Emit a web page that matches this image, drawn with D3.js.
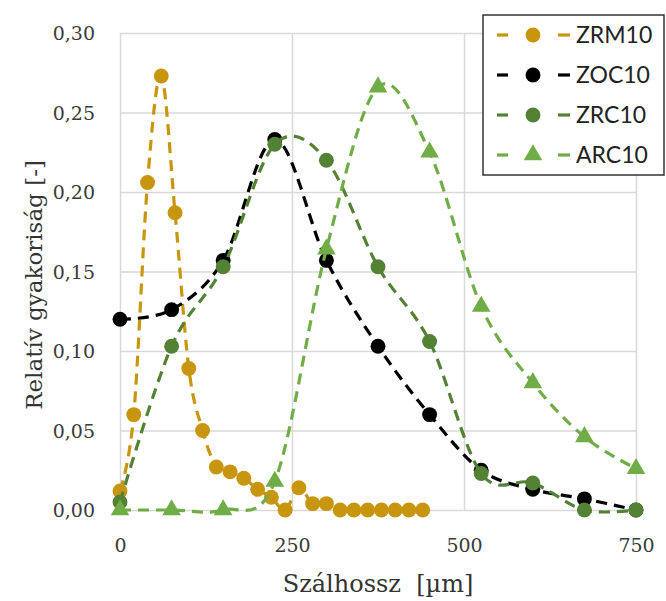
<!DOCTYPE html>
<html>
  <head>
    <style>
    body {
        margin: 0px;
        overflow: hidden;
        background: white;
    }
    .tick text {
        font-family: "DejaVu Serif", serif;
        font-size: 19px;
        fill: #3a3a3a;
    }
    .axis-label {
        font-family: "DejaVu Serif", serif;
        fill: #333;
    }
    .legend text {
        font-family: Lato, sans-serif;
        font-size: 23px;
        fill: #222;
    }
    </style>
    <script src="https://d3js.org/d3.v7.min.js"></script>
  </head>
  <body>
    <svg width="666" height="601"></svg>
    <script>
        const svg = d3.select('svg');
        const width = +svg.attr('width');
        const height = +svg.attr('height');

        // fibre length classes [um]
        const zrmX = [0, 20, 40, 60, 80, 100, 120, 140, 160, 180, 200, 220,
                      240, 260, 280, 300, 320, 340, 360, 380, 400, 420, 440];
        const zrmY = [0.012, 0.060, 0.206, 0.273, 0.187, 0.089, 0.050, 0.027, 0.024, 0.020, 0.013, 0.008,
                      0.000, 0.014, 0.004, 0.004, 0.000, 0.000, 0.000, 0.000, 0.000, 0.000, 0.000];

        const coarseX = [0, 75, 150, 225, 300, 375, 450, 525, 600, 675, 750];
        const zocY = [0.120, 0.126, 0.157, 0.233, 0.157, 0.103, 0.060, 0.025, 0.013, 0.007, 0.000];
        const zrcY = [0.005, 0.103, 0.153, 0.230, 0.220, 0.153, 0.106, 0.023, 0.017, 0.000, 0.000];
        const arcY = [0.000, 0.000, 0.000, 0.018, 0.164, 0.266, 0.225, 0.128, 0.080, 0.046, 0.026];

        const xTicks = [0, 250, 500, 750];
        const yTicks = [0, 0.05, 0.10, 0.15, 0.20, 0.25, 0.30];

        const series = [
            {name: 'ZRM10', x: zrmX, y: zrmY, color: '#C8960E', symbol: 'circle'},
            {name: 'ZOC10', x: coarseX, y: zocY, color: '#000000', symbol: 'circle'},
            {name: 'ZRC10', x: coarseX, y: zrcY, color: '#548235', symbol: 'circle'},
            {name: 'ARC10', x: coarseX, y: arcY, color: '#70AD47', symbol: 'triangle'}
        ];

        const margin = { top: 33, right: 30, bottom: 91, left: 120 };
        const innerWidth = width - margin.left - margin.right;
        const innerHeight = height - margin.top - margin.bottom;

        const xScale = d3.scaleLinear().domain([0, 750]).range([0, innerWidth]);
        const yScale = d3.scaleLinear().domain([0, 0.30]).range([innerHeight, 0]);

        const g = svg.append('g')
            .attr('transform', `translate(${margin.left},${margin.top})`);

        //gridlines
        const fmt = d3.format('.2f');
        const yAxis = d3.axisLeft(yScale)
            .tickValues(yTicks)
            .tickSize(-innerWidth)
            .tickPadding(25)
            .tickFormat(d => fmt(d).replace('.', ','));
        const yAxisG = g.append('g').call(yAxis);
        yAxisG.select('.domain').remove();
        yAxisG.selectAll('.tick line').attr('stroke', '#d9d9d9').attr('stroke-width', 1.5);
        yAxisG.selectAll('.tick text').attr('dy', '0.36em');

        const xAxis = d3.axisBottom(xScale)
            .tickValues(xTicks)
            .tickSize(-innerHeight)
            .tickPadding(29);
        const xAxisG = g.append('g').call(xAxis)
            .attr('transform', `translate(0,${innerHeight})`);
        xAxisG.select('.domain').remove();
        xAxisG.selectAll('.tick line').attr('stroke', '#d9d9d9').attr('stroke-width', 1.5);

        //series
        const line = d3.line()
            .x(d => xScale(d[0]))
            .y(d => yScale(d[1]))
            .curve(d3.curveCardinal.tension(0));

        const circleSym = d3.symbol().type(d3.symbolCircle).size(175);
        const triSym = d3.symbol().type(d3.symbolTriangle).size(150);

        series.forEach(s => {
            const pts = s.x.map((x, i) => [x, s.y[i]]);
            g.append('path')
                .datum(pts)
                .attr('d', line)
                .attr('fill', 'none')
                .attr('stroke', s.color)
                .attr('stroke-width', 3.2)
                .attr('stroke-dasharray', '11,7');
            g.selectAll(null).data(pts)
                .enter().append('path')
                    .attr('transform', d => `translate(${xScale(d[0])},${yScale(d[1])})`)
                    .attr('d', s.symbol === 'circle' ? circleSym : triSym)
                    .attr('fill', s.color);
        });

        //axis titles
        svg.append('text')
            .attr('class', 'axis-label')
            .attr('x', 378)
            .attr('y', 592)
            .attr('text-anchor', 'middle')
            .attr('font-size', '24px')
            .attr('xml:space', 'preserve')
            .text('Szálhossz  [µm]');

        svg.append('text')
            .attr('class', 'axis-label')
            .attr('transform', 'translate(42,285) rotate(-90)')
            .attr('text-anchor', 'middle')
            .attr('font-size', '23px')
            .text('Relatív gyakoriság [-]');

        //legend
        const legend = svg.append('g').attr('class', 'legend');
        legend.append('rect')
            .attr('x', 483).attr('y', 15)
            .attr('width', 181).attr('height', 160)
            .attr('fill', 'white')
            .attr('stroke', '#333')
            .attr('stroke-width', 1.5);

        series.forEach((s, i) => {
            const cy = 35 + i * 40;
            legend.append('line')
                .attr('x1', 497).attr('x2', 508).attr('y1', cy).attr('y2', cy)
                .attr('stroke', s.color).attr('stroke-width', 3.2);
            legend.append('line')
                .attr('x1', 558).attr('x2', 570).attr('y1', cy).attr('y2', cy)
                .attr('stroke', s.color).attr('stroke-width', 3.2);
            legend.append('path')
                .attr('transform', `translate(533,${cy})`)
                .attr('d', s.symbol === 'circle' ? circleSym : triSym)
                .attr('fill', s.color);
            legend.append('text')
                .attr('x', 576).attr('y', cy)
                .attr('dy', '0.36em')
                .text(s.name);
        });
    </script>
  </body>
</html>
